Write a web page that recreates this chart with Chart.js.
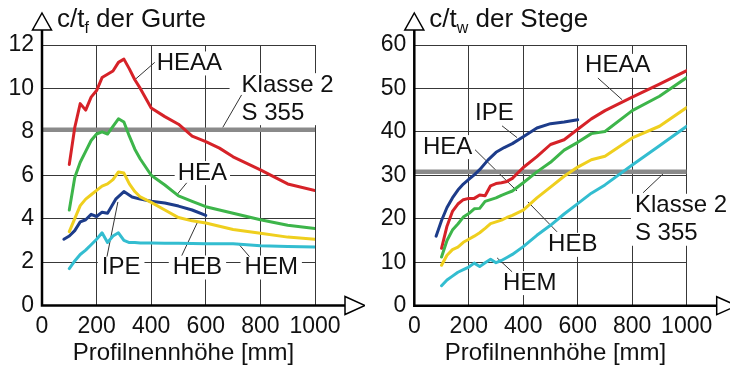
<!DOCTYPE html>
<html>
<head>
<meta charset="utf-8">
<script src="https://cdn.jsdelivr.net/npm/chart.js"></script>
<style>
  html, body { margin: 0; padding: 0; background: #fff; }
  #wrap { position: relative; width: 730px; height: 369px; overflow: hidden; }
  .box { position: absolute; top: 0; width: 365px; height: 369px; }
</style>
</head>
<body>
<div id="wrap">
  <div class="box" style="left:0"><canvas id="gurte" width="365" height="369"></canvas></div>
  <div class="box" style="left:365px"><canvas id="stege" width="365" height="369"></canvas></div>
</div>
<script>
// Profilhöhen [mm]
const xHE  = [100, 120, 140, 160, 180, 200, 220, 240, 260, 280, 300, 320, 340, 360, 400, 450, 500, 550, 600, 650, 700, 800, 900, 1000];
const xIPE = [80, 100, 120, 140, 160, 180, 200, 220, 240, 270, 300, 330, 360, 400, 450, 500, 550, 600];

// c/tf der Gurte
const heaaF = [6.5, 8.2, 9.3, 9.0, 9.6, 9.9, 10.5, 10.65, 10.8, 11.2, 11.35, 10.9, 10.4, 10.0, 9.1, 8.7, 8.35, 7.8, 7.55, 7.25, 6.85, 6.25, 5.6, 5.3];
const heaF  = [4.4, 5.9, 6.6, 7.1, 7.6, 7.9, 8.0, 7.9, 8.25, 8.6, 8.45, 7.8, 7.2, 6.75, 6.0, 5.55, 5.05, 4.8, 4.55, 4.4, 4.25, 3.95, 3.7, 3.55];
const hebF  = [3.4, 4.0, 4.6, 4.9, 5.1, 5.3, 5.5, 5.6, 5.8, 6.15, 6.1, 5.6, 5.25, 5.0, 4.75, 4.4, 4.05, 3.9, 3.8, 3.65, 3.5, 3.33, 3.15, 3.05];
const hemF  = [1.7, 2.05, 2.35, 2.55, 2.8, 3.05, 3.35, 2.9, 3.2, 3.35, 3.0, 2.9, 2.9, 2.88, 2.88, 2.87, 2.87, 2.86, 2.85, 2.85, 2.85, 2.75, 2.72, 2.7];
const ipeF  = [3.05, 3.2, 3.45, 3.85, 3.95, 4.2, 4.1, 4.3, 4.25, 4.9, 5.25, 5.0, 4.9, 4.8, 4.72, 4.58, 4.4, 4.15];

// c/tw der Stege
const heaaW = [13.2, 18.3, 21.7, 23.4, 24.4, 24.7, 24.7, 25.5, 25.3, 27.6, 28.1, 28.3, 28.6, 29.3, 31.8, 34.3, 37.1, 38.2, 40.6, 43.0, 44.9, 48.0, 51.0, 54.1];
const heaW  = [11.2, 15.0, 17.4, 18.8, 20.4, 21.2, 22.3, 22.4, 24.0, 24.4, 24.8, 25.4, 25.9, 26.4, 28.3, 30.8, 33.0, 35.8, 37.6, 39.6, 40.1, 44.9, 48.2, 52.5];
const hebW  = [9.3, 11.6, 12.9, 13.5, 14.6, 15.3, 16.0, 16.8, 17.8, 18.9, 19.3, 19.7, 20.3, 20.8, 22.0, 24.8, 27.3, 29.8, 31.9, 33.6, 34.4, 38.6, 41.3, 45.6];
const hemW  = [4.6, 5.9, 6.8, 7.7, 8.3, 8.9, 9.8, 9.0, 9.9, 10.7, 9.9, 10.4, 11.1, 11.8, 13.6, 16.2, 18.5, 21.1, 23.5, 25.9, 27.8, 32.4, 36.8, 41.3];
const ipeW  = [16.0, 19.6, 22.6, 24.8, 26.6, 28.0, 29.1, 30.1, 31.3, 33.5, 35.3, 36.4, 37.3, 38.9, 40.9, 41.9, 42.3, 42.8];

// Grenzwerte Klasse 2, S 355
const klasse2Gurt = 8.1;
const klasse2Steg = 30.8;

// Achsenteilung
const xTicks     = [0, 200, 400, 600, 800, 1000];
const yTicksGurt = [0, 2, 4, 6, 8, 10, 12];
const yTicksSteg = [0, 10, 20, 30, 40, 50, 60];

const FONT = '"Liberation Sans", Arial, sans-serif';
const colors = { heaa: '#d62228', hea: '#3db54a', heb: '#efcf1e', hem: '#33bdd0', ipe: '#1d3c8a' };

// Beschriftungen (Lage in Achswerten)
const labelsGurt = [
  { text: ['HEAA'], x: 420, y: 11.15, pad: 3, lead: [413, 11.2, 340, 10.4] },
  { text: ['Klasse 2', 'S 355'], x: 731, y: 10.15, pad: 12, lead: [731, 9.7, 662, 8.2] },
  { text: ['HEA'], x: 497, y: 6.1, pad: 3, lead: [530, 5.65, 494, 5.1] },
  { text: ['IPE'], x: 219, y: 1.77, pad: 4, lead: [238, 2.25, 278, 4.77] },
  { text: ['HEB'], x: 479, y: 1.75, pad: 4, lead: [512, 2.3, 570, 3.85] },
  { text: ['HEM'], x: 742, y: 1.75, pad: 4, lead: [760, 2.25, 717, 2.88] }
];
const labelsSteg = [
  { text: ['HEAA'], x: 627, y: 55.2, pad: 3, lead: [674, 52.4, 763, 47.4] },
  { text: ['IPE'], x: 223, y: 44.2, pad: 3, lead: [322, 41.4, 377, 38.7] },
  { text: ['HEA'], x: 32, y: 36.5, pad: 3, lead: [223, 35.9, 377, 26.4] },
  { text: ['HEB'], x: 491, y: 14.0, pad: 3, lead: [524, 17.0, 417, 23.9] },
  { text: ['HEM'], x: 326, y: 5.2, pad: 3, lead: [359, 7.8, 304, 11.0] },
  { text: ['Klasse 2', 'S 355'], x: 810, y: 23.0, pad: 4, lead: [840, 26.0, 921, 30.8] }
];

function pts(xs, ys) { return xs.map((x, i) => ({ x: x, y: ys[i] })); }

function kurve(data, color) {
  return { data: data, borderColor: color, borderWidth: 3, showLine: true, pointRadius: 0,
           tension: 0, borderJoinStyle: 'round', borderCapStyle: 'round', fill: false };
}

// Achsen mit Pfeilen, Titel, Beschriftungen
const deko = {
  id: 'deko',
  beforeDatasetsDraw(chart, args, o) {
    const { ctx, scales: { x, y } } = chart;
    ctx.save();
    ctx.font = '24px ' + FONT;
    ctx.textBaseline = 'middle';
    o.labels.forEach(l => {
      const px = x.getPixelForValue(l.x), py = y.getPixelForValue(l.y);
      const w = Math.max(...l.text.map(t => ctx.measureText(t).width));
      const h = (l.text.length - 1) * 28;
      ctx.fillStyle = '#fff';
      ctx.fillRect(px - l.pad, py - 12, w + 2 * l.pad, h + 24);
    });
    ctx.strokeStyle = '#333';
    ctx.lineWidth = 1;
    o.labels.forEach(l => {
      const a = l.lead;
      ctx.beginPath();
      ctx.moveTo(x.getPixelForValue(a[0]), y.getPixelForValue(a[1]));
      ctx.lineTo(x.getPixelForValue(a[2]), y.getPixelForValue(a[3]));
      ctx.stroke();
    });
    ctx.fillStyle = '#111';
    o.labels.forEach(l => {
      const px = x.getPixelForValue(l.x), py = y.getPixelForValue(l.y);
      l.text.forEach((t, i) => ctx.fillText(t, px, py + i * 28));
    });
    ctx.restore();
  },
  afterDraw(chart, args, o) {
    const { ctx, chartArea: a } = chart;
    ctx.save();
    // Achsen
    ctx.strokeStyle = '#000';
    ctx.lineWidth = 2.5;
    ctx.beginPath();
    ctx.moveTo(a.left, 30);
    ctx.lineTo(a.left, a.bottom);
    ctx.lineTo(a.right + 30, a.bottom);
    ctx.stroke();
    // Pfeile
    ctx.lineWidth = 1.5;
    ctx.fillStyle = '#fff';
    ctx.beginPath();
    ctx.moveTo(a.left, 13); ctx.lineTo(a.left + 9.5, 30); ctx.lineTo(a.left - 9.5, 30); ctx.closePath();
    ctx.fill(); ctx.stroke();
    ctx.beginPath();
    ctx.moveTo(a.right + 50, a.bottom); ctx.lineTo(a.right + 30, a.bottom - 9); ctx.lineTo(a.right + 30, a.bottom + 9); ctx.closePath();
    ctx.fill(); ctx.stroke();
    // Titel mit Index
    ctx.fillStyle = '#111';
    ctx.textBaseline = 'alphabetic';
    let tx = a.left + 15;
    ctx.font = '26px ' + FONT;
    ctx.fillText('c/t', tx, 27);
    tx += ctx.measureText('c/t').width;
    ctx.font = '16px ' + FONT;
    ctx.fillText(o.sub, tx, 33);
    tx += ctx.measureText(o.sub).width;
    ctx.font = '26px ' + FONT;
    ctx.fillText(' der ' + o.name, tx, 27);
    // x-Achsentitel
    ctx.font = '24px ' + FONT;
    ctx.textAlign = 'center';
    ctx.fillText('Profilnennhöhe [mm]', (a.left + a.right) / 2 + 5, 360);
    ctx.restore();
  }
};

function diagramm(id, series, klasse, yMax, yTicks, area, labels, sub, name) {
  const ds = series.map(s => kurve(s[0], s[1]));
  ds.push({ data: [{ x: 0, y: klasse }, { x: 1000, y: klasse }], borderColor: '#8a8a8a', borderWidth: 4.5,
            showLine: true, pointRadius: 0, borderCapStyle: 'butt' });
  return new Chart(document.getElementById(id), {
    type: 'scatter',
    data: { datasets: ds },
    options: {
      responsive: false,
      animation: false,
      events: [],
      layout: { padding: { top: 45, right: area.right, left: 0, bottom: 0 } },
      plugins: { legend: { display: false }, tooltip: { enabled: false },
                 deko: { labels: labels, sub: sub, name: name } },
      scales: {
        x: {
          type: 'linear', min: 0, max: 1000,
          afterBuildTicks: s => { s.ticks = xTicks.map(v => ({ value: v })); },
          afterFit: s => { s.height = area.bottom; },
          ticks: { color: '#111', font: { family: FONT, size: 23 }, padding: 7, maxRotation: 0, autoSkip: false,
                   callback: v => String(v) },
          grid: { color: '#383838', lineWidth: 1, drawTicks: false },
          border: { display: false }
        },
        y: {
          type: 'linear', min: 0, max: yMax,
          afterBuildTicks: s => { s.ticks = yTicks.map(v => ({ value: v })); },
          afterFit: s => { s.width = area.left; },
          ticks: { color: '#111', font: { family: FONT, size: 23 }, padding: 8, autoSkip: false,
                   callback: v => String(v) },
          grid: { color: '#383838', lineWidth: 1, drawTicks: false },
          border: { display: false }
        }
      }
    },
    plugins: [deko]
  });
}

diagramm('gurte', [
  [pts(xHE, hemF), colors.hem],
  [pts(xHE, hebF), colors.heb],
  [pts(xHE, heaF), colors.hea],
  [pts(xIPE, ipeF), colors.ipe],
  [pts(xHE, heaaF), colors.heaa]
], klasse2Gurt, 12, yTicksGurt, { left: 42, right: 50, bottom: 63.5 }, labelsGurt, 'f', 'Gurte');

diagramm('stege', [
  [pts(xHE, hemW), colors.hem],
  [pts(xHE, hebW), colors.heb],
  [pts(xHE, heaW), colors.hea],
  [pts(xIPE, ipeW), colors.ipe],
  [pts(xHE, heaaW), colors.heaa]
], klasse2Steg, 60, yTicksSteg, { left: 49.3, right: 43.3, bottom: 63.3 }, labelsSteg, 'w', 'Stege');
</script>
</body>
</html>
